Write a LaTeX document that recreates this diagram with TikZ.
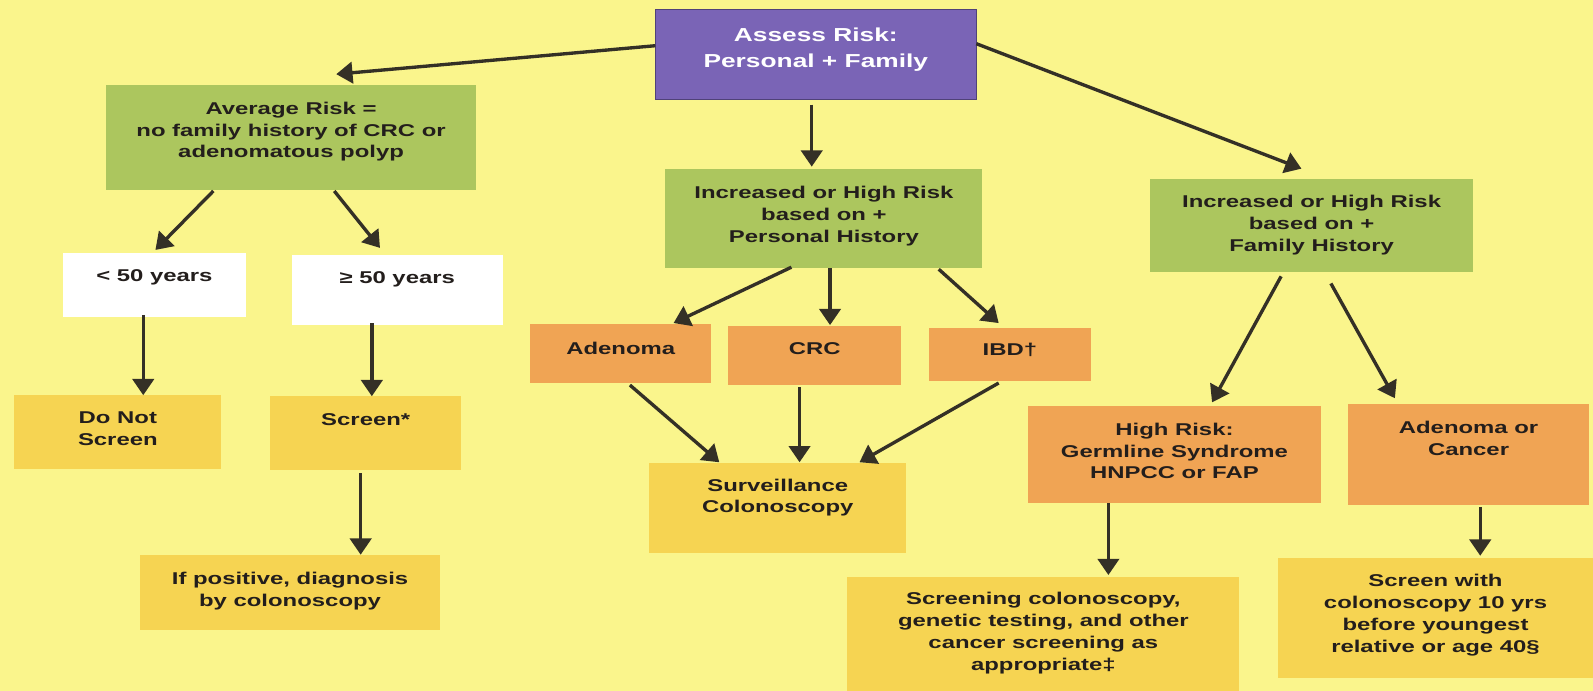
\documentclass[tikz,border=0pt]{standalone}
\usepackage{fontspec}
\setmainfont{Liberation Sans}[FakeStretch=1.4]
\usetikzlibrary{arrows.meta,calc,fit}
\definecolor{bgc}{RGB}{250,245,140}
\definecolor{purplec}{RGB}{122,100,182}
\definecolor{purpleedge}{RGB}{80,66,120}
\definecolor{greenc}{RGB}{172,198,94}
\definecolor{orangec}{RGB}{240,164,84}
\definecolor{goldc}{RGB}{246,212,82}
\definecolor{arrowc}{RGB}{52,48,38}
\definecolor{textc}{RGB}{35,30,28}
\newcommand\flowbox[6]{\node[#6, fit={(#2,#3) (#4,#5)}] (#1) {};}
\begin{document}
\begin{tikzpicture}[x=1pt,y=-1pt,
  box/.style={rectangle, inner sep=0pt, outer sep=0pt, draw=none},
  purplebox/.style={box, fill=purplec, draw=purpleedge, line width=0.8pt},
  greenbox/.style={box, fill=greenc},
  orangebox/.style={box, fill=orangec},
  goldbox/.style={box, fill=goldc},
  whitebox/.style={box, fill=white},
  txt/.style={font=\bfseries\fontsize{16.8}{21.5}\selectfont, align=center, inner sep=0pt, text=textc, anchor=north},
  ttl/.style={txt, font=\bfseries\fontsize{18.5}{26}\selectfont, text=white},
  arr/.style={draw=arrowc, line width=3.3pt, -{Triangle[length=16pt,width=21pt]}}]
\fill[bgc] (0,0) rectangle (1568,680);
\useasboundingbox (0,0) rectangle (1568,680);
% boxes
\flowbox{assess}{645}{9}{961}{98}{purplebox}
\flowbox{avg}{104}{84}{469}{187}{greenbox}
\flowbox{incp}{655}{166}{967}{264}{greenbox}
\flowbox{incf}{1132}{176}{1450}{268}{greenbox}
\flowbox{lt}{62}{249}{242}{312}{whitebox}
\flowbox{ge}{287}{251}{495}{320}{whitebox}
\flowbox{aden}{522}{319}{700}{377}{orangebox}
\flowbox{crc}{717}{321}{887}{379}{orangebox}
\flowbox{ibd}{914}{323}{1074}{375}{orangebox}
\flowbox{dns}{14}{389}{218}{462}{goldbox}
\flowbox{scr}{266}{390}{454}{463}{goldbox}
\flowbox{surv}{639}{456}{892}{544}{goldbox}
\flowbox{hr}{1012}{400}{1300}{495}{orangebox}
\flowbox{ac}{1327}{398}{1564}{497}{orangebox}
\flowbox{ifp}{138}{546}{433}{620}{goldbox}
\flowbox{scol}{834}{568}{1220}{680}{goldbox}
\flowbox{sw}{1258}{549}{1568}{667}{goldbox}
% texts
\node[ttl] (assess-t) at ($(assess.north)+(0,18)$) {Assess Risk:\\Personal + Family};
\node[txt] (avg-t) at ($(avg.north)+(0,16)$) {Average Risk =\\no family history of CRC or\\adenomatous polyp};
\node[txt] (incp-t) at ($(incp.north)+(0,17)$) {Increased or High Risk\\based on +\\Personal History};
\node[txt] (incf-t) at ($(incf.north)+(0,16)$) {Increased or High Risk\\based on +\\Family History};
\node[txt] (lt-t) at ($(lt.north)+(0,16)$) {< 50 years};
\node[txt] (ge-t) at ($(ge.north)+(0,16)$) {≥ 50 years};
\node[txt] (aden-t) at ($(aden.north)+(0,18)$) {Adenoma};
\node[txt] (crc-t) at ($(crc.north)+(0,16)$) {CRC};
\node[txt] (ibd-t) at ($(ibd.north)+(0,15)$) {IBD†};
\node[txt] (dns-t) at ($(dns.north)+(0,16)$) {Do Not\\Screen};
\node[txt] (scr-t) at ($(scr.north)+(0,17)$) {Screen*};
\node[txt] (surv-t) at ($(surv.north)+(0,15)$) {Surveillance\\Colonoscopy};
\node[txt] (hr-t) at ($(hr.north)+(0,16)$) {High Risk:\\Germline Syndrome\\HNPCC or FAP};
\node[txt] (ac-t) at ($(ac.north)+(0,16)$) {Adenoma or\\Cancer};
\node[txt] (ifp-t) at ($(ifp.north)+(0,17)$) {If positive, diagnosis\\by colonoscopy};
\node[txt] (scol-t) at ($(scol.north)+(0,15)$) {Screening colonoscopy,\\genetic testing, and other\\cancer screening as\\appropriate‡};
\node[txt] (sw-t) at ($(sw.north)+(0,16)$) {Screen with\\colonoscopy 10 yrs\\before youngest\\relative or age 40§};
% connectors
\draw[arr] ($(assess.north west)+(0,36)$) -- ($(avg.north west)+(227,-11)$);
\draw[arr] ($(assess.north west)+(154,94)$) -- ($(incp.north west)+(144,-2)$);
\draw[arr] ($(assess.north west)+(316,34)$) -- ($(incf.north west)+(149,-10)$);
\draw[arr] ($(avg.north west)+(106,104)$) -- ($(lt.north west)+(91,-3)$);
\draw[arr] ($(avg.north west)+(225,104)$) -- ($(ge.north west)+(87,-7)$);
\draw[arr] ($(lt.north west)+(79,61)$) -- ($(dns.north west)+(127,0)$);
\draw[arr] ($(ge.north west)+(79,67)$) -- ($(scr.north west)+(100,0)$);
\draw[arr] ($(scr.north west)+(89,76)$) -- ($(ifp.north west)+(217,0)$);
\draw[arr] ($(incp.north west)+(124,97)$) -- ($(aden.north west)+(141,-1)$);
\draw[arr] ($(incp.north west)+(162,98)$) -- ($(crc.north west)+(100,-1)$);
\draw[arr] ($(incp.north west)+(269,99)$) -- ($(ibd.north west)+(69,-5)$);
\draw[arr] ($(aden.north west)+(98,60)$) -- ($(surv.north west)+(69,-1)$);
\draw[arr] ($(crc.north west)+(70,60)$) -- ($(surv.north west)+(148,-1)$);
\draw[arr] ($(ibd.north west)+(69,54)$) -- ($(surv.north west)+(207,-1)$);
\draw[arr] ($(incf.north west)+(129,96)$) -- ($(hr.north west)+(181,-4)$);
\draw[arr] ($(incf.north west)+(178,103)$) -- ($(ac.north west)+(46,-6)$);
\draw[arr] ($(hr.north west)+(79,95)$) -- ($(scol.north west)+(257,-2)$);
\draw[arr] ($(ac.north west)+(130,101)$) -- ($(sw.north west)+(199,-2)$);
\end{tikzpicture}
\end{document}
